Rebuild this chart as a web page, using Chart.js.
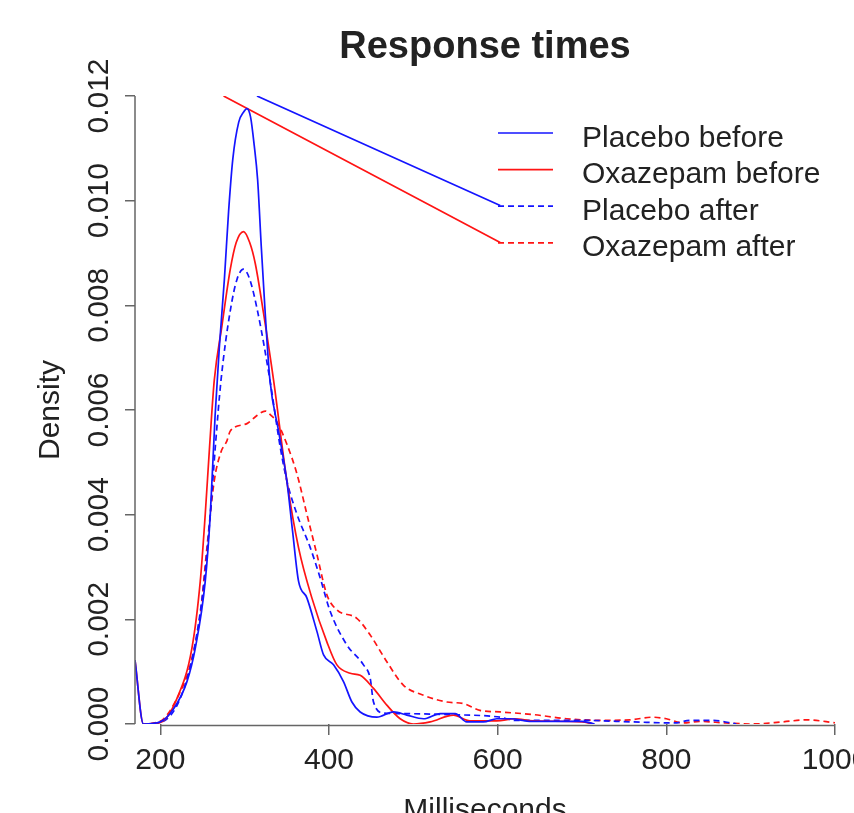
<!DOCTYPE html>
<html>
<head>
<meta charset="utf-8">
<script src="https://cdn.jsdelivr.net/npm/chart.js@4.4.0/dist/chart.umd.min.js"></script>
<style>
  html, body { margin: 0; padding: 0; overflow: hidden; background: #fff; }
  #wrap { width: 900px; height: 840px; }
</style>
</head>
<body>
<div id="wrap"><canvas id="density" width="900" height="840"></canvas></div>
<script>
// axis ticks
const xTicks = [200, 400, 600, 800, 1000];
const yTicks = [0, 0.002, 0.004, 0.006, 0.008, 0.010, 0.012];

// density curves, [milliseconds, density]
const placeboBefore = [
  [170, 0.00122], [180, 0], [200, 0.00004], [215.8, 0.00029], [231.6, 0.00081],
  [241.5, 0.00145], [253.3, 0.00273], [259.3, 0.00401], [265, 0.0059], [270, 0.0072],
  [276, 0.0085], [281, 0.0098], [286, 0.0108], [293, 0.0115], [299, 0.0117], [302.7, 0.01176],
  [307, 0.0116], [311.4, 0.01105], [315.4, 0.0104], [319.7, 0.00913], [324.4, 0.00785],
  [330, 0.00657], [340.2, 0.0056], [350, 0.00465], [356.8, 0.00369], [363.9, 0.00273],
  [373.8, 0.00241], [385.7, 0.00177], [393.6, 0.00132], [405.4, 0.00113], [417.2, 0.00081],
  [427.2, 0.00042], [437, 0.00023], [456.8, 0.00013], [476.5, 0.00023], [492.3, 0.00017],
  [512, 0.0001], [531.9, 0.0002], [549.6, 0.0002], [563.4, 0.00004], [583, 0.00004],
  [599, 0.0001], [615, 0.0001], [640, 0.00005], [700, 0.00005], [715, 0]
];
const oxazepamBefore = [
  [170, 0.00122], [180, 0], [200, 0.00003], [219.8, 0.00049], [237.5, 0.00145],
  [247.4, 0.00273], [253.3, 0.00401], [258.4, 0.00529], [264, 0.00657], [273, 0.0076],
  [283, 0.00869], [290, 0.0092], [298.7, 0.00941], [306, 0.0092], [312.6, 0.0088],
  [322.4, 0.00785], [334.3, 0.00657], [350, 0.00465], [363.9, 0.00337], [379.7, 0.00241],
  [397.5, 0.00157], [409.4, 0.00113], [425.2, 0.00097], [437, 0.00093], [452.8, 0.00068],
  [468.6, 0.00036], [484.4, 0.0001], [500, 0], [520, 0.00004], [547.6, 0.00017],
  [567, 0.00006], [599, 0.00006], [620, 0.0001], [642, 0.00006], [700, 0.00004], [713, 0]
];
const placeboAfter = [
  [180, 0], [200, 0.00003], [223.7, 0.00049], [240.3, 0.00145], [252, 0.00273],
  [259.3, 0.00401], [265.2, 0.00529], [272, 0.00657], [283, 0.0079], [291, 0.0085],
  [298.7, 0.00869], [306, 0.0085], [315.8, 0.00785], [330, 0.00657], [342.2, 0.00529],
  [350, 0.00465], [362, 0.00401], [377.8, 0.00337], [389.6, 0.00279], [401.5, 0.00215],
  [421.2, 0.00151], [440.9, 0.00113], [448.9, 0.00087], [452.8, 0.00042], [464.7, 0.00021],
  [480.5, 0.0002], [540, 0.00018], [603, 0.00013], [620, 0.00007], [700, 0.00007],
  [760, 0.00004], [810, 0.00002], [828, 0.00007], [855, 0.00007], [883, 0]
];
const oxazepamAfter = [
  [188, 0], [204, 0.0001], [219.8, 0.00049], [235.6, 0.00113], [247.4, 0.00209],
  [255.3, 0.00337], [264, 0.00465], [272, 0.0052], [279, 0.00541], [283, 0.0056],
  [302.7, 0.00574], [315, 0.0059], [324.4, 0.00598], [331, 0.0059], [338.3, 0.00577],
  [350, 0.00535], [362, 0.00478], [373.8, 0.00401], [385.7, 0.00324], [397.5, 0.00247],
  [409.4, 0.00218], [433, 0.00202], [448.9, 0.0017], [468.6, 0.00119], [488.4, 0.00074],
  [512, 0.00055], [539.8, 0.00042], [559.5, 0.00039], [579, 0.00026], [603, 0.00023],
  [642, 0.00018], [682, 0.0001], [721, 0.00007], [757, 0.00008], [784, 0.00013],
  [800, 0.0001], [820, 0.00002], [840, 0.00005], [870, 0.00002], [900, 0],
  [938, 0.00004], [966, 0.00008], [997, 0.00003], [1010, 0]
];
// the two stray straight segments running into the legend
const blueStray = [[314.6, 0.012], [603, 0.009907]];
const redStray = [[275, 0.012], [603, 0.0092]];

const seriesNames = ['Placebo before', 'Oxazepam before', 'Placebo after', 'Oxazepam after'];

const FONT = '"Liberation Sans", Arial, Helvetica, sans-serif';
const BLUE = 'rgb(20,20,255)';
const RED = 'rgb(255,20,20)';
const DASH = [6, 4];

const toXY = arr => arr.map(p => ({ x: p[0], y: p[1] }));

function curve(label, data, color, dash, inLegend) {
  return {
    label: label,
    data: toXY(data),
    borderColor: color,
    borderWidth: 1.7,
    borderDash: dash,
    pointRadius: 0,
    fill: false,
    cubicInterpolationMode: 'monotone',
    inLegend: inLegend
  };
}

// R style axis lines: only from first to last tick
const axisLines = {
  id: 'axisLines',
  afterDraw(chart) {
    const { ctx, chartArea, scales } = chart;
    ctx.save();
    ctx.strokeStyle = '#666';
    ctx.lineWidth = 1.5;
    ctx.beginPath();
    const yb = chartArea.bottom + 1.5;
    ctx.moveTo(scales.x.getPixelForValue(xTicks[0]), yb);
    ctx.lineTo(scales.x.getPixelForValue(xTicks[xTicks.length - 1]), yb);
    ctx.moveTo(chartArea.left, scales.y.getPixelForValue(yTicks[0]));
    ctx.lineTo(chartArea.left, scales.y.getPixelForValue(yTicks[yTicks.length - 1]));
    ctx.stroke();

    // rotated y tick labels, parallel to the axis
    ctx.fillStyle = '#222';
    ctx.font = '30px ' + FONT;
    ctx.textAlign = 'center';
    ctx.textBaseline = 'middle';
    scales.y.ticks.forEach(t => {
      ctx.save();
      ctx.translate(99.5, scales.y.getPixelForValue(t.value));
      ctx.rotate(-Math.PI / 2);
      ctx.fillText(t.value.toFixed(3), 0, 0);
      ctx.restore();
    });
    ctx.restore();
  }
};

// legend drawn in the top right of the plot
const rLegend = {
  id: 'rLegend',
  afterDraw(chart) {
    const ctx = chart.ctx;
    ctx.save();
    ctx.font = '30px ' + FONT;
    ctx.fillStyle = '#222';
    ctx.textAlign = 'left';
    ctx.textBaseline = 'alphabetic';
    chart.data.datasets.filter(d => d.inLegend).forEach((d, i) => {
      const y = 133 + i * 36.6;
      ctx.strokeStyle = d.borderColor;
      ctx.lineWidth = d.borderWidth;
      ctx.setLineDash(d.borderDash || []);
      ctx.beginPath();
      ctx.moveTo(498, y);
      ctx.lineTo(553, y);
      ctx.stroke();
      ctx.setLineDash([]);
      ctx.fillText(d.label, 582, y + 13.5);
    });
    ctx.restore();
  }
};

Chart.defaults.font.family = FONT;
Chart.defaults.color = '#222';

new Chart(document.getElementById('density'), {
  type: 'line',
  data: {
    datasets: [
      curve(seriesNames[0], placeboBefore, BLUE, [], true),
      curve(seriesNames[1], oxazepamBefore, RED, [], true),
      curve(seriesNames[2], placeboAfter, BLUE, DASH, true),
      curve(seriesNames[3], oxazepamAfter, RED, DASH, true),
      curve('', blueStray, BLUE, [], false),
      curve('', redStray, RED, [], false)
    ]
  },
  options: {
    responsive: false,
    animation: false,
    layout: { padding: { left: 0, right: 65, top: 0, bottom: 11 } },
    plugins: {
      legend: { display: false },
      tooltip: { enabled: false },
      title: {
        display: true,
        text: 'Response times',
        fullSize: false,
        color: '#222',
        font: { size: 38, weight: 'bold' },
        padding: { top: 25, bottom: 25.4 }
      }
    },
    scales: {
      x: {
        type: 'linear',
        min: 170,
        max: 1000,
        afterBuildTicks: s => { s.ticks = xTicks.map(v => ({ value: v })); },
        border: { display: false },
        grid: { drawOnChartArea: false, drawTicks: true, tickLength: 11, color: '#666', lineWidth: 1.5 },
        ticks: { font: { size: 30 }, color: '#222', padding: 8, maxRotation: 0, autoSkip: false,
                 callback: v => String(v) },
        title: { display: true, text: 'Milliseconds', font: { size: 30 }, color: '#222', padding: { top: 6, bottom: 0 } }
      },
      y: {
        min: 0,
        max: 0.012,
        afterBuildTicks: s => { s.ticks = yTicks.map(v => ({ value: v })); },
        border: { display: false },
        grid: { drawOnChartArea: false, drawTicks: true, tickLength: 10, color: '#666', lineWidth: 1.5 },
        ticks: { display: false },
        title: { display: true, text: 'Density', font: { size: 30 }, color: '#222', padding: { top: 33, bottom: 56 } }
      }
    }
  },
  plugins: [axisLines, rLegend]
});
</script>
</body>
</html>
